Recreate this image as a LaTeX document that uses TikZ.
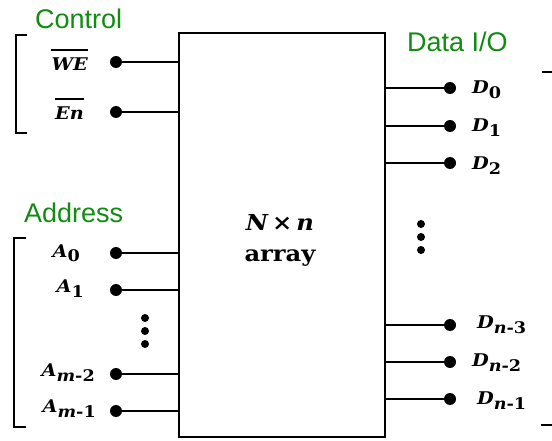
\documentclass[tikz,border=0pt]{standalone}
\usepackage{graphicx}
\usepackage{fontspec}
\newfontfamily\grpfont{Liberation Sans}
\newfontfamily\labfont{DejaVu Serif}
\definecolor{grpgreen}{RGB}{16,140,16}
\newcommand\lab[2]{\scalebox{1.1}[1]{\itshape #1\raisebox{-5pt}{\fontsize{16}{16}\selectfont #2}}}
\newcommand\up[1]{{\upshape #1}}
\tikzset{
  grp/.style={text=grpgreen, font=\grpfont\fontsize{27}{30}\selectfont, inner sep=0pt},
  pin/.style={circle, fill=black, inner sep=0pt, minimum size=12pt},
  vdot/.style={circle, fill=black, inner sep=0pt, minimum size=8pt},
  lbl/.style={font=\labfont\bfseries\fontsize{17.5}{20}\selectfont, inner sep=0pt},
  inner/.style={font=\labfont\bfseries\fontsize{22}{26}\selectfont, inner sep=0pt},
  wire/.style={line width=2pt},
  bar/.style={line width=1.6pt},
  brk/.style={line width=2pt},
  chip/.style={draw, line width=2.4pt, rectangle, minimum width=206pt, minimum height=404pt, inner sep=0pt}
}
\begin{document}
\begin{tikzpicture}[x=1pt,y=-1pt]
\useasboundingbox (0,0) rectangle (552,441);
% box
\node[chip] (box) at (282,235) {};
\node[inner, anchor=base] (nn) at (280,230) {\scalebox{1.1}[1]{\itshape N\upshape\,×\,\itshape n}};
\node[inner, anchor=base] (arr) at (280,261) {\scalebox{1.1}[1]{array}};
% group labels
\node[grp, anchor=west] (ctl) at (35,19) {Control};
\node[grp, anchor=west] (adr) at (24,213) {Address};
\node[grp, anchor=west] (dio) at (407,42) {Data I/O};
% control pins
\node[pin] (pwe) at (116,62) {};
\node[pin] (pen) at (116,112) {};
\node[lbl, anchor=base east] (lwe) at (88,71) {\lab{WE}{}};
\node[lbl, anchor=base east] (len) at (84,120) {\lab{En}{}};
\draw[bar] ([yshift=8pt]lwe.north west) -- ([yshift=8pt]lwe.north east);
\draw[bar] ([yshift=8pt]len.north west) -- ([yshift=8pt]len.north east);
\draw[wire] (pwe) -- (pwe -| box.west);
\draw[wire] (pen) -- (pen -| box.west);
% address pins
\node[pin] (pa0) at (116,253) {};
\node[pin] (pa1) at (116,290) {};
\node[pin] (pa2) at (116,374) {};
\node[pin] (pa3) at (116,411) {};
\node[lbl, anchor=base east] (la0) at (80,257) {\lab{A}{\up{0}}};
\node[lbl, anchor=base east] (la1) at (84,292) {\lab{A}{\up{1}}};
\node[lbl, anchor=base east] (la2) at (95,376) {\lab{A}{m\up{-2}}};
\node[lbl, anchor=base east] (la3) at (96,412) {\lab{A}{m\up{-1}}};
\foreach \p in {pa0,pa1,pa2,pa3} \draw[wire] (\p) -- (\p -| box.west);
\node[vdot] (la) at (145,318) {};
\node[vdot] (lb) at (145,331) {};
\node[vdot] (lc) at (145,344) {};
% data pins
\node[pin] (pd0) at (450,88) {};
\node[pin] (pd1) at (450,126) {};
\node[pin] (pd2) at (450,163) {};
\node[pin] (pd3) at (450,325) {};
\node[pin] (pd4) at (450,362) {};
\node[pin] (pd5) at (450,399) {};
\foreach \p in {pd0,pd1,pd2,pd3,pd4,pd5} \draw[wire] (\p) -- (\p -| box.east);
\node[lbl, anchor=base west] (ld0) at (472,94) {\lab{D}{\up{0}}};
\node[lbl, anchor=base west] (ld1) at (472,132) {\lab{D}{\up{1}}};
\node[lbl, anchor=base west] (ld2) at (472,170) {\lab{D}{\up{2}}};
\node[lbl, anchor=base west] (ld3) at (477,328) {\lab{D}{n\up{-3}}};
\node[lbl, anchor=base west] (ld4) at (472,366) {\lab{D}{n\up{-2}}};
\node[lbl, anchor=base west] (ld5) at (477,404) {\lab{D}{n\up{-1}}};
\node[vdot] (ra) at (421,224) {};
\node[vdot] (rb) at (421,237) {};
\node[vdot] (rc) at (421,250) {};
% brackets
\draw[brk] (27,35) -- (16,35) -- (16,133) -- (27,133);
\draw[brk] (26,238) -- (14,238) -- (14,427) -- (26,427);
\draw[brk] (542,72) -- (552,72);
\draw[brk] (541,425) -- (552,425);
\end{tikzpicture}
\end{document}
